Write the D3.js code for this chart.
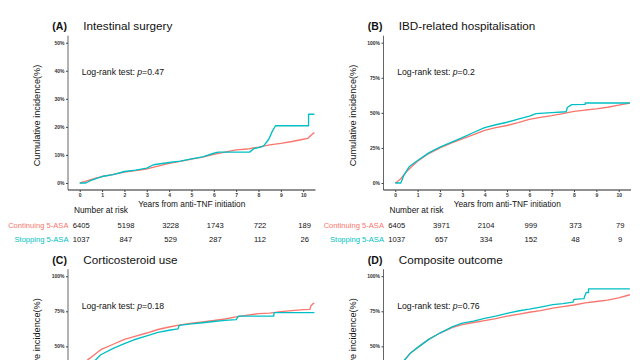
<!DOCTYPE html>
<html>
<head>
<meta charset="utf-8">
<script src="https://cdn.jsdelivr.net/npm/d3@7"></script>
<style>
  html, body { margin: 0; padding: 0; background: #fff; overflow: hidden; }
  svg { display: block; font-family: "Liberation Sans", Arial, sans-serif; }
</style>
</head>
<body>
<svg id="chart" width="640" height="360"></svg>
<script>
// ---------- data ----------
const panelLabels = ["(A)", "(B)", "(C)", "(D)"];
const panelTitles = ["Intestinal surgery", "IBD-related hospitalisation", "Corticosteroid use", "Composite outcome"];
const pValues = ["0.47", "0.2", "0.18", "0.76"];
const groupNames = ["Continuing 5-ASA", "Stopping 5-ASA"];
const xTicks = [0, 1, 2, 3, 4, 5, 6, 7, 8, 9, 10];
const yTicksA = [0, 10, 20, 30, 40, 50];
const yTicksPct = [0, 25, 50, 75, 100];
const riskYears = [0, 2, 4, 6, 8, 10];
const riskContinuingA = [6405, 5198, 3228, 1743, 722, 189];
const riskStoppingA = [1037, 847, 529, 287, 112, 26];
const riskContinuingB = [6405, 3971, 2104, 999, 373, 79];
const riskStoppingB = [1037, 657, 334, 152, 48, 9];

// cumulative incidence curves [years, percent]
const surgeryContinuing = [[0,0],[0.25,0.6],[0.5,1.2],[0.75,1.8],[1,2.3],[1.5,3.1],[2,3.9],[2.5,4.4],[3,5.0],[3.5,6.0],[4,7.0],[4.5,7.7],[5,8.5],[5.5,9.2],[6,10.2],[6.5,11.0],[7,11.8],[7.5,12.1],[8,12.8],[8.5,13.6],[9,14.1],[9.5,14.8],[10,15.6],[10.2,15.9],[10.35,17.0],[10.5,18.0]];
const surgeryStopping = [[0,0],[0.27,0],[0.5,0.9],[1,2.3],[1.5,3.0],[2,4.1],[2.5,4.6],[3,5.3],[3.3,6.5],[4,7.3],[4.5,7.8],[5,8.6],[5.5,9.3],[6,10.6],[6.2,11.0],[7,11.0],[7.6,11.0],[7.8,12.3],[8.1,12.8],[8.24,13.3],[8.46,15.6],[8.61,18.3],[8.76,20.4],[10.24,20.4],[10.24,24.5],[10.5,24.5]];
const hospContinuing = [[0,0],[0.1,1],[0.25,3],[0.5,8],[0.75,12],[1,15.5],[1.5,21],[2,25],[2.5,28.5],[3,31.5],[3.5,34.5],[4,37.5],[4.5,39.5],[5,41],[5.5,43],[6,45.3],[6.5,46.8],[7,48],[7.5,49.5],[8,51],[8.5,52],[9,52.8],[9.5,54],[10,55.5],[10.5,57]];
const hospStopping = [[0,0],[0.25,0],[0.4,6],[0.63,11.7],[1,16],[1.5,21.5],[2,25.5],[2.5,29],[3,32.3],[3.5,36],[4,39.5],[4.5,41.5],[5,43.3],[5.5,45.5],[6,47.6],[6.3,49.5],[7,50.2],[7.65,50.8],[7.7,53.8],[7.9,55.9],[8.5,56],[8.5,57],[10.5,57]];
const steroidContinuing = [[0,0],[0.1,22],[0.2,32],[0.36,40.5],[0.5,42],[0.94,47.6],[1.5,51.5],[2,55],[2.43,57],[3,59.5],[3.5,62],[4,63.8],[4.5,65.3],[5,66.5],[5.5,67.5],[6,68.4],[6.5,69.5],[7,71],[7.5,72.3],[8,73.3],[8.5,73.7],[9,74.8],[9.5,75.5],[10,76.2],[10.3,76.4],[10.35,79],[10.45,80.6],[10.5,80.6]];
const steroidStopping = [[0,0],[0.1,15],[0.25,28],[0.5,37],[0.94,44],[1.5,48.5],[2,52],[2.43,54.7],[3,57.5],[3.5,60],[4,61.5],[4.4,62.5],[4.45,65],[5,66],[5.5,66.8],[6,67.7],[6.5,68.5],[7,69],[7.1,71.5],[8.68,71.5],[8.7,74],[10.5,74]];
const compositeContinuing = [[0,0],[0.1,20],[0.25,32],[0.4,40],[0.7,45.5],[1.07,50],[1.5,55],[2,59.5],[2.57,63.5],[3,65.5],[3.5,67],[4,68.4],[4.5,69.8],[5,71.5],[5.55,73],[6,74.3],[6.5,75.5],[7.05,77.3],[7.5,78.3],[8,79.5],[8.5,81],[9,82],[9.5,83],[10,84.5],[10.5,86.8]];
const compositeStopping = [[0,0],[0.1,19],[0.25,31],[0.4,40],[0.7,45.5],[1.07,50],[1.5,55],[2,59.5],[2.57,64],[3,66.5],[3.5,68],[4,70],[4.5,71.5],[5,73.5],[5.55,75.4],[6,76.5],[6.5,78],[7.05,79.8],[7.5,80.5],[7.95,81.5],[8.0,83.5],[8.45,84],[8.47,85.5],[8.55,88.4],[8.65,88.4],[8.65,91],[10.5,91]];

const colors = ["#F8766D", "#00BFC4"];

// ---------- layout ----------
const panels = [
  { ox: 0,     oy: 0,     yTicks: yTicksA,   yDom: [-2.5, 52.5], curves: [surgeryContinuing, surgeryStopping], risk: [riskContinuingA, riskStoppingA] },
  { ox: 315.5, oy: 0,     yTicks: yTicksPct, yDom: [-5, 105],    curves: [hospContinuing, hospStopping],       risk: [riskContinuingB, riskStoppingB] },
  { ox: 0,     oy: 233.5, yTicks: yTicksPct, yDom: [-5, 105],    curves: [steroidContinuing, steroidStopping], risk: null },
  { ox: 315.5, oy: 233.5, yTicks: yTicksPct, yDom: [-5, 105],    curves: [compositeContinuing, compositeStopping], risk: null }
];
const H = 360;

const svg = d3.select("#chart");
svg.append("rect").attr("width", 640).attr("height", 360).attr("fill", "#fff");

panels.forEach((p, i) => {
  const g = svg.append("g").attr("transform", `translate(${p.ox},${p.oy})`);
  const axisX = 68, xEnd = 315.5, yTop = 35.7, yBot = 190;
  const x = d3.scaleLinear().domain([-0.525, 10.55]).range([axisX, xEnd]);
  const y = d3.scaleLinear().domain(p.yDom).range([yBot, yTop]);
  const visible = yy => yy + p.oy < H - 3;

  // curves
  const line = d3.line().x(d => x(d[0])).y(d => y(d[1]));
  p.curves.forEach((c, k) => {
    g.append("path").datum(c).attr("d", line)
      .attr("fill", "none").attr("stroke", colors[k])
      .attr("stroke-width", 1.35).attr("stroke-linejoin", "round");
  });

  // y axis (ticks only where they fall inside the picture)
  const yAxis = d3.axisLeft(y).tickValues(p.yTicks.filter(v => visible(y(v))))
    .tickFormat(d => d + "%").tickSize(2).tickPadding(1.5);
  const ya = g.append("g").attr("transform", `translate(${axisX},0)`).call(yAxis);
  ya.select(".domain").attr("d", `M0,${yTop}V${yBot}`).attr("stroke", "#666").attr("stroke-width", 1);
  ya.selectAll(".tick line").attr("stroke", "#444");
  ya.selectAll(".tick text").attr("font-size", 5).attr("font-weight", "bold").attr("fill", "#333")
    .attr("font-family", "Liberation Sans, Arial, sans-serif");

  // x axis
  if (visible(yBot)) {
    const xAxis = d3.axisBottom(x).tickValues(xTicks).tickFormat(d3.format("d")).tickSize(2).tickPadding(1.5);
    const xa = g.append("g").attr("transform", `translate(0,${yBot})`).call(xAxis);
    xa.select(".domain").attr("d", `M${axisX},0H${xEnd}`).attr("stroke", "#222").attr("stroke-width", 1);
    xa.selectAll(".tick line").attr("stroke", "#444");
    xa.selectAll(".tick text").attr("font-size", 5).attr("font-weight", "bold").attr("fill", "#333")
      .attr("font-family", "Liberation Sans, Arial, sans-serif");

    g.append("text").attr("x", (axisX + xEnd) / 2).attr("y", 204).attr("text-anchor", "middle")
      .attr("dominant-baseline", "central").attr("font-size", 8.3).attr("fill", "#111")
      .text("Years from anti-TNF initiation");
  }

  // titles
  g.append("text").attr("x", axisX - 15.7).attr("y", 30).attr("font-size", 10.5).attr("font-weight", "bold")
    .attr("fill", "#111").text(panelLabels[i]);
  g.append("text").attr("x", axisX + 15.3).attr("y", 30).attr("font-size", 11.7)
    .attr("fill", "#111").text(panelTitles[i]);

  // log-rank
  const lr = g.append("text").attr("x", axisX + 13.7).attr("y", 75).attr("font-size", 8.7).attr("fill", "#111");
  lr.append("tspan").text("Log-rank test: ");
  lr.append("tspan").attr("font-style", "italic").text("p");
  lr.append("tspan").text("=" + pValues[i]);

  // y axis title
  g.append("text").attr("transform", `translate(${axisX - 31},${115.5}) rotate(-90)`)
    .attr("text-anchor", "middle").attr("dominant-baseline", "central")
    .attr("font-size", 9.2).attr("fill", "#111").text("Cumulative incidence(%)");

  // risk table
  if (p.risk) {
    g.append("text").attr("x", axisX + 6).attr("y", 209.5).attr("dominant-baseline", "central")
      .attr("font-size", 8.3).attr("fill", "#111").text("Number at risk");
    const rowY = [225, 239.3];
    p.risk.forEach((row, k) => {
      g.append("text").attr("x", axisX + 0.5).attr("y", rowY[k]).attr("text-anchor", "end")
        .attr("dominant-baseline", "central").attr("font-size", 7.6).attr("fill", colors[k])
        .text(groupNames[k]);
      g.selectAll(null).data(row).enter().append("text")
        .attr("x", (d, j) => x(riskYears[j]) + 1.5).attr("y", rowY[k])
        .attr("text-anchor", "middle").attr("dominant-baseline", "central")
        .attr("font-size", 7.6).attr("fill", "#111").text(d => d);
    });
  }
});
</script>
</body>
</html>
